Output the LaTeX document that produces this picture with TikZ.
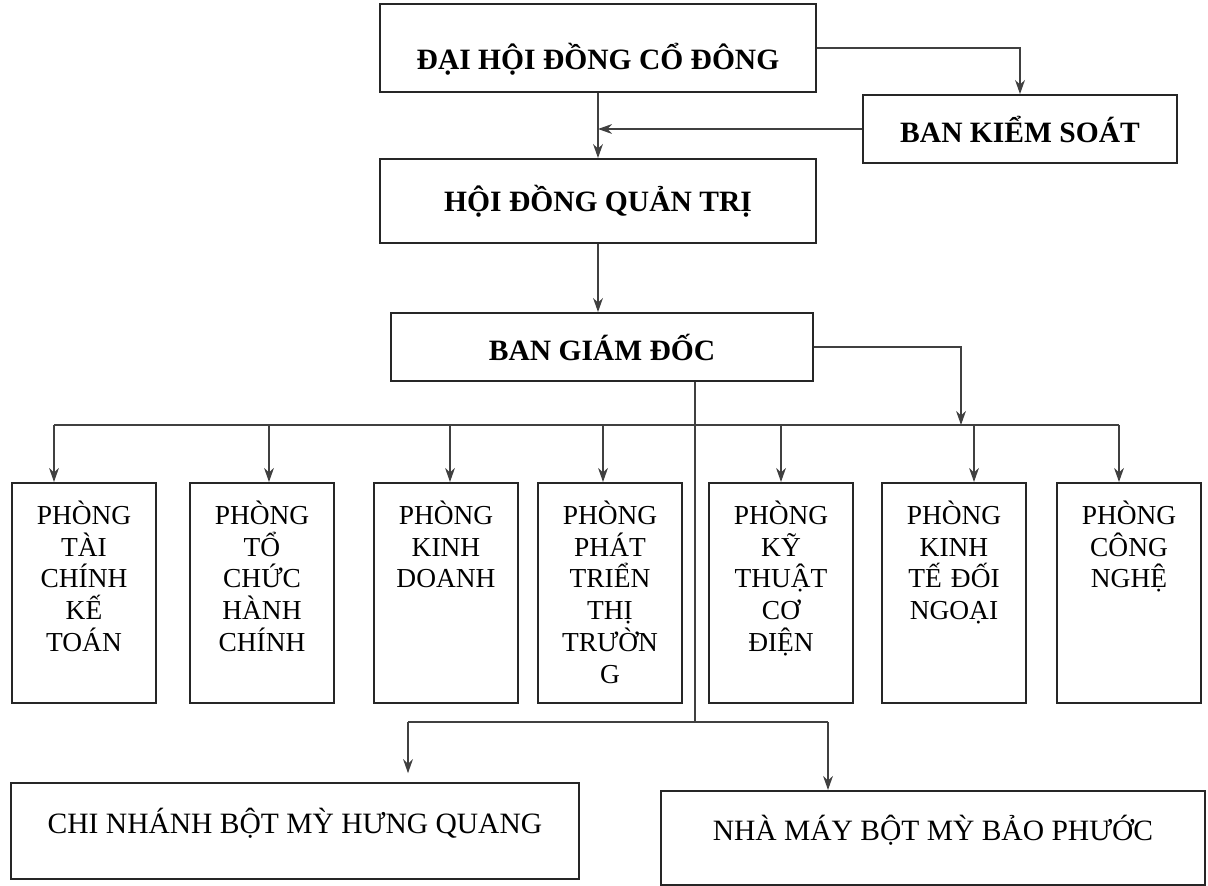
\documentclass[tikz,border=0pt]{standalone}
\usepackage{fontspec}
\setmainfont{Liberation Serif}
\usetikzlibrary{arrows.meta}

\tikzset{
  khung/.style={draw=black!85, line width=1.3pt, inner sep=0pt,
    font=\bfseries\fontsize{21}{25}\selectfont},
  phong/.style={draw=black!85, line width=1.3pt, anchor=north,
    text width=3.45cm, align=center, inner xsep=0.075cm, inner ysep=0pt,
    text height=1.03cm, text depth=4.47cm,
    font=\fontsize{19.5}{22.7}\selectfont},
  chinhanh/.style={draw=black!85, line width=1.3pt, anchor=north, inner sep=0pt,
    font=\fontsize{21}{25}\selectfont},
  muiten/.style={-{Stealth[length=10pt,width=7pt]}, line width=1.1pt, color=black!75},
  noi/.style={line width=1.1pt, color=black!75}
}

\begin{document}
\begin{tikzpicture}[x=0.025cm, y=-0.025cm]
  \useasboundingbox (0,0) rectangle (1208,886);

  % khoi lanh dao
  \node[khung, minimum width=10.9cm, minimum height=2.2cm,
        text height=1.2cm, text depth=0.11cm] (dhdcd) at (598,48) {ĐẠI HỘI ĐỒNG CỔ ĐÔNG};
  \node[khung, minimum width=7.85cm, minimum height=1.7cm] (bks) at (1020,129) {BAN KIỂM SOÁT};
  \node[khung, minimum width=10.9cm, minimum height=2.1cm] (hdqt) at (598,201) {HỘI ĐỒNG QUẢN TRỊ};
  \node[khung, minimum width=10.55cm, minimum height=1.7cm] (bgd) at (602,347) {BAN GIÁM ĐỐC};

  % cac phong ban
  \node[phong] (p1) at (84,482)   {PHÒNG\\TÀI\\CHÍNH\\KẾ\\TOÁN};
  \node[phong] (p2) at (262,482)  {PHÒNG\\TỔ\\CHỨC\\HÀNH\\CHÍNH};
  \node[phong] (p3) at (446,482)  {PHÒNG\\KINH\\DOANH};
  \node[phong] (p4) at (610,482)  {PHÒNG\\PHÁT\\TRIỂN\\THỊ\\TRƯỜN\\G};
  \node[phong] (p5) at (781,482)  {PHÒNG\\KỸ\\THUẬT\\CƠ\\ĐIỆN};
  \node[phong] (p6) at (954,482)  {PHÒNG\\KINH\\TẾ ĐỐI\\NGOẠI};
  \node[phong] (p7) at (1129,482) {PHÒNG\\CÔNG\\NGHỆ};

  % chi nhanh
  \node[chinhanh, minimum width=14.2cm, text height=1.27cm, text depth=1.13cm]
        (cn1) at (295,782) {CHI NHÁNH BỘT MỲ HƯNG QUANG};
  \node[chinhanh, minimum width=13.6cm, text height=1.25cm, text depth=1.1cm]
        (cn2) at (933,790) {NHÀ MÁY BỘT MỲ BẢO PHƯỚC};

  % diem noi
  \coordinate (bus-l) at (54,425);
  \coordinate (bus-r) at (1119,425);
  \coordinate (t1) at (54,425);
  \coordinate (t2) at (269,425);
  \coordinate (t3) at (450,425);
  \coordinate (t4) at (603,425);
  \coordinate (t5) at (781,425);
  \coordinate (t6) at (974,425);
  \coordinate (t7) at (1119,425);
  \coordinate (rg) at (961,425);
  \coordinate (tru) at (695,722);
  \coordinate (cn-l) at (408,722);
  \coordinate (cn-r) at (828,722);

  \draw[muiten] (dhdcd.east) -| (bks.north);
  \draw[muiten] (bks.west) -- (bks.west -| dhdcd.south);
  \draw[muiten] (dhdcd.south) -- (dhdcd.south |- hdqt.north);
  \draw[muiten] (hdqt.south) -- (hdqt.south |- bgd.north);
  \draw[muiten] (bgd.east) -| (rg);

  \draw[noi] (bus-l) -- (bus-r);
  \path[muiten]
    (t1) edge (t1 |- p1.north)
    (t2) edge (t2 |- p2.north)
    (t3) edge (t3 |- p3.north)
    (t4) edge (t4 |- p4.north)
    (t5) edge (t5 |- p5.north)
    (t6) edge (t6 |- p6.north)
    (t7) edge (t7 |- p7.north);

  \draw[noi] (bgd.south -| tru) -- (tru);
  \draw[noi] (cn-l) -- (cn-r);
  \draw[muiten, shorten >=0.22cm] (cn-l) -- (cn-l |- cn1.north);
  \draw[muiten] (cn-r) -- (cn-r |- cn2.north);
\end{tikzpicture}
\end{document}
